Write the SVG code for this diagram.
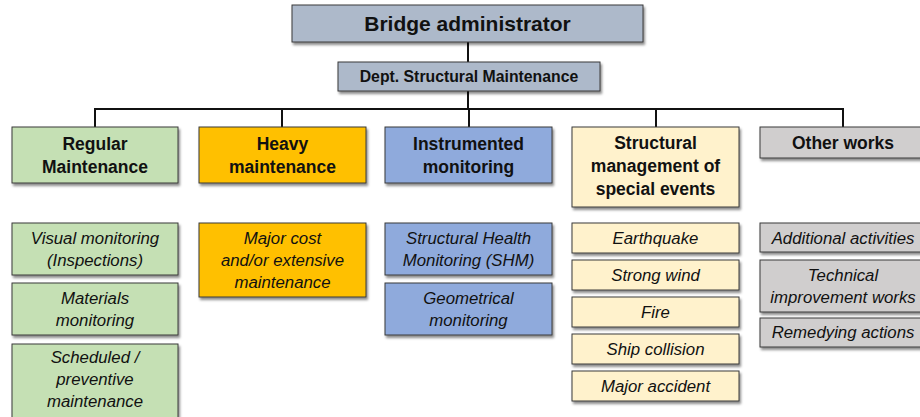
<svg xmlns="http://www.w3.org/2000/svg" width="920" height="417" viewBox="0 0 920 417">
  <defs>
    <filter id="shadow" x="-10%" y="-10%" width="130%" height="140%">
      <feDropShadow dx="1.5" dy="2.5" stdDeviation="1.2" flood-color="#000" flood-opacity="0.45"/>
    </filter>
  </defs>
  <style>
    rect { stroke: #3a3a3a; stroke-width: 1; filter: url(#shadow); }
    .admin { fill: #adb9ca; }
    .green { fill: #c5e0b4; }
    .orange { fill: #ffc000; }
    .blue { fill: #8faadc; }
    .yellow { fill: #fff2cc; }
    .grey { fill: #d0cece; }
    text { font-family: "Liberation Sans", Arial, sans-serif; fill: #111; text-anchor: middle; }
    .h0 { font-size: 21px; font-weight: bold; }
    .h1 { font-size: 15.8px; font-weight: bold; }
    .h2 { font-size: 17.5px; font-weight: bold; }
    .it { font-size: 16.8px; font-style: italic; }
    .wire { fill: none; stroke: #111; stroke-width: 2; }
  </style>

  <rect width="920" height="417" fill="#fff" style="stroke:none;filter:none"/>

  <!-- connectors -->
  <g id="connectors">
    <path class="wire" d="M468 42 V109"/>
    <path class="wire" d="M95 127 V109 H843 V127"/>
    <path class="wire" d="M282 109 V127"/>
    <path class="wire" d="M469 109 V127"/>
    <path class="wire" d="M656 109 V127"/>
  </g>

  <!-- top levels -->
  <g id="bridge-administrator">
    <rect class="admin" x="292" y="5" width="351" height="37"/>
    <text class="h0" x="467.5" y="31">Bridge administrator</text>
  </g>
  <g id="dept-structural-maintenance">
    <rect class="admin" x="338" y="62" width="262" height="29"/>
    <text class="h1" x="469" y="82">Dept. Structural Maintenance</text>
  </g>

  <!-- categories -->
  <g id="regular-maintenance">
    <rect class="green" x="12" y="127" width="166" height="56"/>
    <text class="h2" x="95" y="150">Regular</text>
    <text class="h2" x="95" y="173">Maintenance</text>
  </g>
  <g id="heavy-maintenance">
    <rect class="orange" x="199" y="127" width="167" height="56"/>
    <text class="h2" x="282.5" y="150">Heavy</text>
    <text class="h2" x="282.5" y="173">maintenance</text>
  </g>
  <g id="instrumented-monitoring">
    <rect class="blue" x="385" y="127" width="167" height="56"/>
    <text class="h2" x="468.5" y="150">Instrumented</text>
    <text class="h2" x="468.5" y="173">monitoring</text>
  </g>
  <g id="special-events">
    <rect class="yellow" x="572" y="127" width="167" height="80"/>
    <text class="h2" x="655.5" y="149">Structural</text>
    <text class="h2" x="655.5" y="172">management of</text>
    <text class="h2" x="655.5" y="195">special events</text>
  </g>
  <g id="other-works">
    <rect class="grey" x="760" y="127" width="170" height="31"/>
    <text class="h2" x="843" y="149">Other works</text>
  </g>

  <!-- regular maintenance items -->
  <g id="visual-monitoring">
    <rect class="green" x="12" y="223" width="166" height="52"/>
    <text class="it" x="95" y="244">Visual monitoring</text>
    <text class="it" x="95" y="266">(Inspections)</text>
  </g>
  <g id="materials-monitoring">
    <rect class="green" x="12" y="283" width="166" height="52"/>
    <text class="it" x="95" y="304">Materials</text>
    <text class="it" x="95" y="326">monitoring</text>
  </g>
  <g id="scheduled-maintenance">
    <rect class="green" x="12" y="344" width="166" height="90"/>
    <text class="it" x="95" y="363">Scheduled /</text>
    <text class="it" x="95" y="385">preventive</text>
    <text class="it" x="95" y="407">maintenance</text>
  </g>

  <!-- heavy maintenance item -->
  <g id="major-cost">
    <rect class="orange" x="199" y="223" width="167" height="74"/>
    <text class="it" x="282.5" y="244">Major cost</text>
    <text class="it" x="282.5" y="266">and/or extensive</text>
    <text class="it" x="282.5" y="288">maintenance</text>
  </g>

  <!-- instrumented monitoring items -->
  <g id="shm">
    <rect class="blue" x="385" y="223" width="167" height="52"/>
    <text class="it" x="468.5" y="244">Structural Health</text>
    <text class="it" x="468.5" y="266">Monitoring (SHM)</text>
  </g>
  <g id="geometrical-monitoring">
    <rect class="blue" x="385" y="283" width="167" height="52"/>
    <text class="it" x="468.5" y="304">Geometrical</text>
    <text class="it" x="468.5" y="326">monitoring</text>
  </g>

  <!-- special events -->
  <g id="earthquake">
    <rect class="yellow" x="572" y="223" width="167" height="30"/>
    <text class="it" x="655.5" y="244">Earthquake</text>
  </g>
  <g id="strong-wind">
    <rect class="yellow" x="572" y="260" width="167" height="30"/>
    <text class="it" x="655.5" y="281">Strong wind</text>
  </g>
  <g id="fire">
    <rect class="yellow" x="572" y="297" width="167" height="30"/>
    <text class="it" x="655.5" y="318">Fire</text>
  </g>
  <g id="ship-collision">
    <rect class="yellow" x="572" y="334" width="167" height="30"/>
    <text class="it" x="655.5" y="355">Ship collision</text>
  </g>
  <g id="major-accident">
    <rect class="yellow" x="572" y="371" width="167" height="30"/>
    <text class="it" x="655.5" y="392">Major accident</text>
  </g>

  <!-- other works items -->
  <g id="additional-activities">
    <rect class="grey" x="760" y="223" width="170" height="29"/>
    <text class="it" x="843" y="244">Additional activities</text>
  </g>
  <g id="technical-improvement">
    <rect class="grey" x="760" y="260" width="170" height="52"/>
    <text class="it" x="843" y="281">Technical</text>
    <text class="it" x="843" y="303">improvement works</text>
  </g>
  <g id="remedying-actions">
    <rect class="grey" x="760" y="318" width="170" height="29"/>
    <text class="it" x="843" y="338">Remedying actions</text>
  </g>
</svg>
